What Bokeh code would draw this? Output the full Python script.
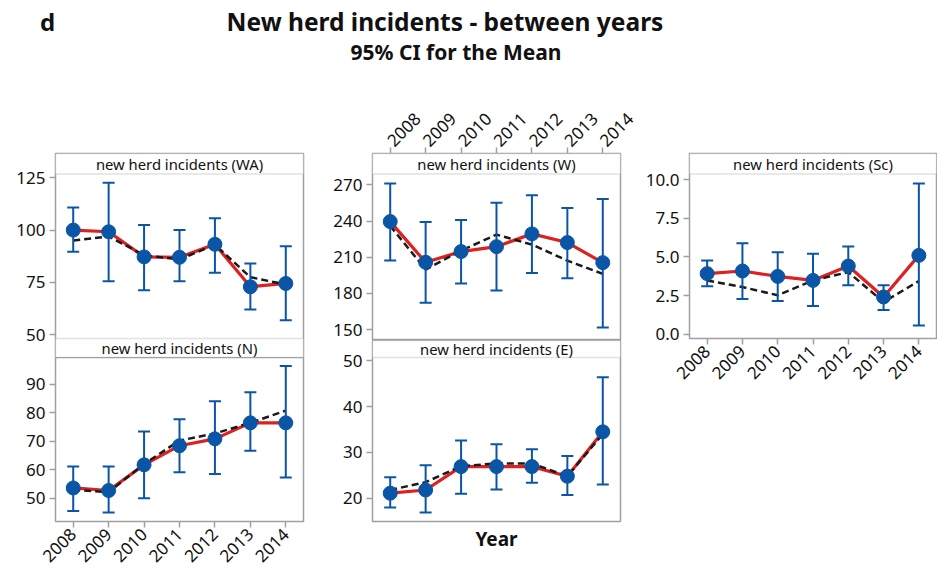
import math
from bokeh.plotting import figure
from bokeh.models import Range1d, FixedTicker, LinearAxis, BoxAnnotation, Label, PrintfTickFormatter
from bokeh.layouts import column, row
from bokeh.embed import file_html
from bokeh.resources import INLINE
from bokeh.core.properties import value

# ---------------- data ----------------
years = [2008, 2009, 2010, 2011, 2012, 2013, 2014]

wa_mean = [100.0, 99.2, 87.2, 87.0, 93.2, 72.9, 74.5]
wa_lo = [89.6, 75.5, 71.3, 75.5, 79.6, 62.0, 56.9]
wa_hi = [110.8, 122.6, 102.4, 100.0, 105.7, 84.0, 92.3]
wa_fit = [95.0, 97.0, 88.0, 86.0, 93.0, 77.5, 74.0]
wa_ticks = [50, 75, 100, 125]

n_mean = [53.6, 52.7, 61.7, 68.4, 70.8, 76.4, 76.4]
n_lo = [45.5, 45.0, 50.0, 59.1, 58.5, 66.6, 57.3]
n_hi = [61.1, 61.1, 73.4, 77.7, 84.0, 87.1, 96.3]
n_fit = [53.0, 52.1, 62.0, 70.2, 72.7, 76.4, 80.7]
n_ticks = [50, 60, 70, 80, 90]

w_mean = [239.6, 205.8, 214.7, 218.8, 229.4, 222.2, 205.5]
w_lo = [207.2, 172.2, 188.2, 182.4, 197.0, 192.6, 151.7]
w_hi = [271.3, 239.3, 241.0, 255.3, 261.4, 250.9, 258.4]
w_fit = [236.0, 199.8, 215.5, 228.8, 220.5, 207.2, 196.2]
w_ticks = [150, 180, 210, 240, 270]

e_mean = [21.1, 21.8, 26.9, 26.9, 26.9, 24.8, 34.5]
e_lo = [18.0, 16.9, 21.0, 21.9, 23.4, 20.7, 23.0]
e_hi = [24.6, 27.2, 32.6, 31.8, 30.7, 29.2, 46.4]
e_fit = [21.8, 23.5, 27.0, 27.6, 27.6, 24.8, 34.0]
e_ticks = [20, 30, 40, 50]

sc_mean = [3.92, 4.09, 3.74, 3.48, 4.41, 2.41, 5.10]
sc_lo = [3.10, 2.28, 2.15, 1.83, 3.16, 1.57, 0.56]
sc_hi = [4.77, 5.89, 5.31, 5.20, 5.68, 3.16, 9.76]
sc_fit = [3.48, 3.05, 2.52, 3.48, 4.02, 2.08, 3.44]
sc_ticks = [0.0, 2.5, 5.0, 7.5, 10.0]

# ---------------- style ----------------
FONT = "Noto Sans"
GRAY = "#a0a0a0"
BLUE = "#0a55a6"
RED = "#dd2020"
TXT = "#111111"


def style_axis(ax):
    ax.axis_line_color = None
    ax.major_tick_line_color = GRAY
    ax.major_tick_line_width = 1.5
    ax.major_tick_out = 6
    ax.major_tick_in = 0
    ax.minor_tick_line_color = None
    ax.major_label_text_font = FONT
    ax.major_label_text_font_size = "17px"
    ax.major_label_text_color = TXT
    ax.major_label_standoff = 4


def strip_label(p, text, y):
    p.add_layout(Label(x=2011, y=y, text=text,
                       text_align="center", text_baseline="middle",
                       text_font=FONT, text_font_size="14.8px", text_color=TXT))


def panel(mean, lo, hi, fit, yticks, data_lo, data_hi, frame_w, frame_h,
          bl, br, bt, bb, top_strip=None, bot_strip=None,
          xaxis=None, fmt=None, year_label=False):
    top_px = top_strip[1] if top_strip else 0
    bot_px = bot_strip[1] if bot_strip else 0
    upp = (data_hi - data_lo) / (frame_h - top_px - bot_px)
    y_end = data_hi + top_px * upp
    y_start = data_lo - bot_px * upp
    p = figure(frame_width=frame_w, frame_height=frame_h,
               min_border_left=bl, min_border_right=br,
               min_border_top=bt, min_border_bottom=bb,
               x_range=Range1d(2007.5, 2014.5), y_range=Range1d(y_start, y_end),
               x_axis_location=None, y_axis_location=None,
               output_backend="svg", toolbar_location=None)
    p.grid.visible = False
    p.outline_line_color = GRAY
    p.outline_line_width = 1.5
    p.background_fill_color = "white"
    p.border_fill_color = "white"

    yax = LinearAxis(ticker=FixedTicker(ticks=yticks))
    style_axis(yax)
    if fmt:
        yax.formatter = PrintfTickFormatter(format=fmt)
    p.add_layout(yax, "left")

    if xaxis is not None:
        xax = LinearAxis(ticker=FixedTicker(ticks=years))
        style_axis(xax)
        xax.major_label_orientation = math.pi / 4
        p.add_layout(xax, xaxis)

    if year_label:
        xax = LinearAxis(ticker=FixedTicker(ticks=[]))
        xax.axis_line_color = None
        xax.major_tick_line_color = None
        xax.minor_tick_line_color = None
        xax.major_tick_out = 0
        xax.axis_label = "Year"
        xax.axis_label_text_font = FONT
        xax.axis_label_text_font_style = "bold"
        xax.axis_label_text_font_size = "19px"
        xax.axis_label_text_color = TXT
        xax.axis_label_standoff = 4
        p.add_layout(xax, "below")

    # strips (panel headers)
    if top_strip:
        p.add_layout(BoxAnnotation(bottom=data_hi, fill_color="white", fill_alpha=1.0,
                                   line_color=GRAY, line_width=1.5))
        strip_label(p, top_strip[0], (data_hi + y_end) / 2)
    if bot_strip:
        p.add_layout(BoxAnnotation(top=data_lo, fill_color="white", fill_alpha=1.0,
                                   line_color=GRAY, line_width=1.5))
        strip_label(p, bot_strip[0], (data_lo + y_start) / 2)

    # data
    p.line(years, mean, line_color=RED, line_width=3.2)
    p.line(years, fit, line_color="#1a1a1a", line_width=2.5, line_dash="7 4")
    p.segment(x0=years, y0=lo, x1=years, y1=hi, line_color=BLUE, line_width=2)
    p.scatter(years, lo, marker="dash", size=12, line_color=BLUE, line_width=2)
    p.scatter(years, hi, marker="dash", size=12, line_color=BLUE, line_width=2)
    p.scatter(years, mean, marker="circle", size=14, fill_color=BLUE, line_color=BLUE)
    return p


# column 1 (WA figure also carries the header strip of N)
f_wa = panel(wa_mean, wa_lo, wa_hi, wa_fit, wa_ticks, 48.2, 126.8, 248, 204,
             55, 21, 68, 0,
             top_strip=("new herd incidents (WA)", 20.5),
             bot_strip=("new herd incidents (N)", 19))
f_n = panel(n_mean, n_lo, n_hi, n_fit, n_ticks, 41.85, 99.3, 248, 164,
            55, 21, 0, 53, xaxis="below")
# column 2
f_w = panel(w_mean, w_lo, w_hi, w_fit, w_ticks, 140.9, 279.1, 248, 187,
            48, 22, 68, 0, top_strip=("new herd incidents (W)", 20.5), xaxis="above")
f_e = panel(e_mean, e_lo, e_hi, e_fit, e_ticks, 14.92, 50.72, 248, 181,
            48, 22, 0, 53, top_strip=("new herd incidents (E)", 17), year_label=True)
# column 3
f_sc = panel(sc_mean, sc_lo, sc_hi, sc_fit, sc_ticks, -0.28, 10.37, 247, 185,
             46, 1, 68, 60, top_strip=("new herd incidents (Sc)", 20.5),
             xaxis="below", fmt="%.1f")

# header
hdr = figure(width=937, height=85, x_range=Range1d(0, 937), y_range=Range1d(85, 0),
             x_axis_location=None, y_axis_location=None, min_border=0,
             output_backend="svg", toolbar_location=None)
hdr.grid.visible = False
hdr.outline_line_color = None
hdr.text(x=[47], y=[21], text=["d"], text_font=value(FONT), text_font_style="bold",
         text_font_size="24px", text_align="center", text_baseline="middle", text_color=TXT)
hdr.text(x=[444.5], y=[21], text=["New herd incidents - between years"], text_font=value(FONT),
         text_font_style="bold", text_font_size="24.5px", text_align="center",
         text_baseline="middle", text_color=TXT)
hdr.text(x=[455.5], y=[51], text=["95% CI for the Mean"], text_font=value(FONT),
         text_font_style="bold", text_font_size="21px", text_align="center",
         text_baseline="middle", text_color=TXT)

layout = column(hdr, row(column(f_wa, f_n), column(f_w, f_e), f_sc))

open("out.html", "w").write(file_html(layout, INLINE))
